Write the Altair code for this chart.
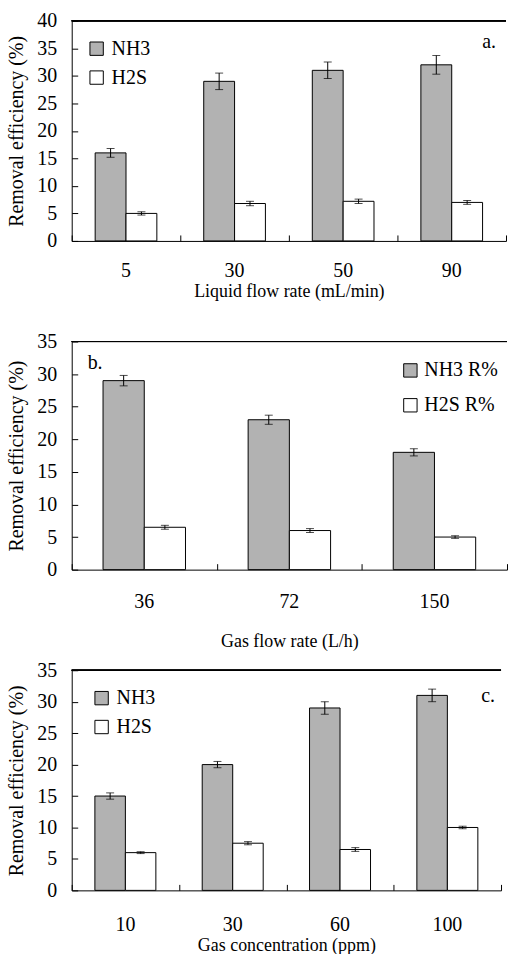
import altair as alt
import pandas as pd

FONT = "Liberation Serif"
GRAY = "#b2b2b2"

# ---- Panel a: liquid flow rate ----
a_cats = ["5", "30", "50", "90"]
a_series = ["NH3", "H2S"]
a_nh3 = [16.0, 29.0, 31.0, 32.0]
a_nh3_err = [0.8, 1.5, 1.5, 1.7]
a_h2s = [5.0, 6.8, 7.2, 7.0]
a_h2s_err = [0.3, 0.4, 0.4, 0.35]

# ---- Panel b: gas flow rate ----
b_cats = ["36", "72", "150"]
b_series = ["NH3 R%", "H2S R%"]
b_nh3 = [29.0, 23.0, 18.0]
b_nh3_err = [0.8, 0.7, 0.55]
b_h2s = [6.5, 6.0, 5.0]
b_h2s_err = [0.3, 0.3, 0.2]

# ---- Panel c: gas concentration ----
c_cats = ["10", "30", "60", "100"]
c_series = ["NH3", "H2S"]
c_nh3 = [15.0, 20.0, 29.0, 31.0]
c_nh3_err = [0.5, 0.5, 1.0, 1.0]
c_h2s = [6.0, 7.5, 6.5, 10.0]
c_h2s_err = [0.15, 0.25, 0.3, 0.2]


def make_df(cats, series, v1, e1, v2, e2):
    rows = []
    for c, v, e in zip(cats, v1, e1):
        rows.append(dict(cat=c, series=series[0], value=v, lo=v - e, hi=v + e))
    for c, v, e in zip(cats, v2, e2):
        rows.append(dict(cat=c, series=series[1], value=v, lo=v - e, hi=v + e))
    return pd.DataFrame(rows)


def panel(df, cats, series, ymax, width, height, xtitle, letter, anchor, ldx, ldy,
          legx, legy, laboff, rowpad, xlabpad, xtitlepad):
    xscale = alt.Scale(domain=cats, paddingInner=0, paddingOuter=0)
    yscale = alt.Scale(domain=[0, ymax], nice=False, zero=True)
    offscale = alt.Scale(domain=series, paddingInner=0, paddingOuter=0.76)
    yvals = list(range(0, ymax + 1, 5))
    base = alt.Chart(df)

    bars = base.mark_bar(stroke="black", strokeWidth=1).encode(
        x=alt.X("cat:N", scale=xscale, sort=cats, title=xtitle,
                axis=alt.Axis(orient="bottom", labelAngle=0, ticks=False, tickSize=0,
                              domain=True, domainColor="black", domainWidth=1,
                              labelFont=FONT, labelFontSize=20, labelColor="black",
                              labelPadding=xlabpad, titleFont=FONT, titleFontSize=18,
                              titleFontWeight="normal", titleColor="black",
                              titlePadding=xtitlepad, grid=False)),
        xOffset=alt.XOffset("series:N", scale=offscale, sort=series),
        y=alt.Y("value:Q", scale=yscale, title="Removal efficiency (%)",
                axis=alt.Axis(orient="left", values=yvals, ticks=False, tickSize=0,
                              domain=True, domainColor="black", domainWidth=1,
                              labelFont=FONT, labelFontSize=20, labelColor="black",
                              labelPadding=15, titleFont=FONT, titleFontSize=20,
                              titleFontWeight="normal", titleColor="black",
                              titlePadding=10, grid=False)),
        color=alt.Color("series:N", sort=series,
                        scale=alt.Scale(domain=series, range=[GRAY, "white"]),
                        legend=alt.Legend(title=None, orient="none", legendX=legx,
                                          legendY=legy, symbolType="square",
                                          symbolSize=180, symbolStrokeColor="black",
                                          symbolStrokeWidth=1, labelFont=FONT,
                                          labelFontSize=20, labelColor="black",
                                          rowPadding=rowpad, labelOffset=laboff,
                                          padding=0)),
    )

    err = base.mark_rule(color="black", strokeWidth=1).encode(
        x=alt.X("cat:N", scale=xscale, sort=cats,
                axis=alt.Axis(orient="top", offset=-height, labels=False, domain=False,
                              ticks=True, tickSize=6, tickBand="extent", tickColor="black",
                              title=None, grid=False)),
        xOffset=alt.XOffset("series:N", scale=offscale, sort=series),
        y=alt.Y("lo:Q", scale=yscale,
                axis=alt.Axis(orient="right", offset=-width, values=yvals, labels=False,
                              domain=False, ticks=True, tickSize=6, tickColor="black",
                              title=None, grid=False)),
        y2="hi:Q",
    )

    cap_lo = base.mark_tick(color="black", thickness=1, size=8).encode(
        x=alt.X("cat:N", scale=xscale, sort=cats, axis=None),
        xOffset=alt.XOffset("series:N", scale=offscale, sort=series),
        y=alt.Y("lo:Q", scale=yscale, axis=None),
    )
    cap_hi = base.mark_tick(color="black", thickness=1, size=8).encode(
        x=alt.X("cat:N", scale=xscale, sort=cats, axis=None),
        xOffset=alt.XOffset("series:N", scale=offscale, sort=series),
        y=alt.Y("hi:Q", scale=yscale, axis=None),
    )

    top = alt.Chart(df).mark_rule(color="black", strokeWidth=1).encode(
        y=alt.Y(datum=ymax, scale=yscale, axis=None)
    )

    return alt.layer(bars, err, cap_lo, cap_hi, top).resolve_axis(
        x="independent", y="independent"
    ).properties(
        width=width, height=height,
        title=alt.TitleParams(text=letter, anchor=anchor, orient="top", frame="group",
                              offset=0, dx=ldx, dy=ldy, font=FONT, fontSize=20,
                              fontWeight="normal", color="black", baseline="alphabetic"),
    )


df_a = make_df(a_cats, a_series, a_nh3, a_nh3_err, a_h2s, a_h2s_err)
df_b = make_df(b_cats, b_series, b_nh3, b_nh3_err, b_h2s, b_h2s_err)
df_c = make_df(c_cats, c_series, c_nh3, c_nh3_err, c_h2s, c_h2s_err)

pa = panel(df_a, a_cats, a_series, 40, 436, 221, "Liquid flow rate (mL/min)", "a.",
           "end", -10, 57, 15, 18, 5, 9, 20, 2)
pb = panel(df_b, b_cats, b_series, 35, 437, 229, "Gas flow rate (L/h)", "b.",
           "start", 16, 58, 330, 19, 4, 15, 22, 21)
pc = panel(df_c, c_cats, c_series, 35, 431, 221, "Gas concentration (ppm)", "c.",
           "end", -6, 62, 20, 18, 5, 9, 24, 2)

chart = alt.vconcat(pa, pb, pc, spacing=101, bounds="flush").resolve_scale(
    color="independent", xOffset="independent"
).properties(
    padding={"left": 7, "top": 9, "right": 0, "bottom": 0},
    background="white",
).configure_view(stroke=None)

chart.save("out.html", embed_options={"renderer": "svg", "actions": False})
